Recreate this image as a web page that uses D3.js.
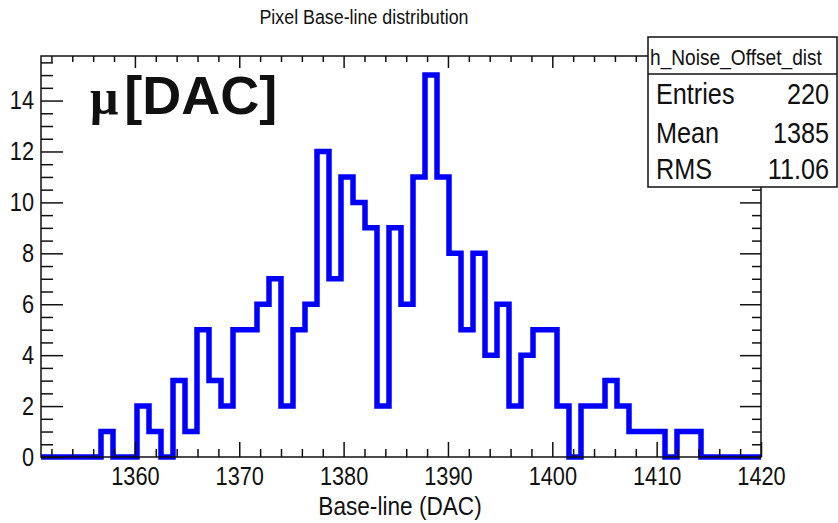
<!DOCTYPE html>
<html>
<head>
<meta charset="utf-8">
<script src="https://cdn.jsdelivr.net/npm/d3@7"></script>
<style>
  html, body { margin: 0; padding: 0; background: #fff; }
  svg { display: block; }
  text { font-family: "Liberation Sans", Arial, sans-serif; fill: #111; }
</style>
</head>
<body>
<svg id="chart" width="838" height="523"></svg>
<script>
// Histogram h_Noise_Offset_dist: 60 bins between 1351 and 1420 DAC
const xLow = 1351;
const xHigh = 1420;
const binCounts = [
  0, 0, 0, 0, 0, 1, 0, 0, 2, 1,
  0, 3, 1, 5, 3, 2, 5, 5, 6, 7,
  2, 5, 6, 12, 7, 11, 10, 9, 2, 9,
  6, 11, 15, 11, 8, 5, 8, 4, 6, 2,
  4, 5, 5, 2, 0, 2, 2, 3, 2, 1,
  1, 1, 0, 1, 1, 0, 0, 0, 0, 0
];
const yMax = 15.75;

const xMajorTicks = [1360, 1370, 1380, 1390, 1400, 1410, 1420];
const yMajorTicks = [0, 2, 4, 6, 8, 10, 12, 14];

const titleText = "Pixel Base-line distribution";
const xAxisTitle = "Base-line (DAC)";
const histName = "h_Noise_Offset_dist";
const statLabels = ["Entries", "Mean", "RMS"];
const statValues = ["220", "1385", "11.06"];
const unitSymbol = "\u03bc";
const unitText = "[DAC]";

const svg = d3.select("#chart");
const frame = { left: 41, right: 761, top: 56, bottom: 457 };
const squeeze = 0.87; // narrow Helvetica-like lettering

const x = d3.scaleLinear().domain([xLow, xHigh]).range([frame.left, frame.right]);
const y = d3.scaleLinear().domain([0, yMax]).range([frame.bottom, frame.top]);

// Histogram outline as a step path
const binWidth = (xHigh - xLow) / binCounts.length;
const pts = [[xLow, 0]];
binCounts.forEach((c, i) => {
  pts.push([xLow + i * binWidth, c]);
  pts.push([xLow + (i + 1) * binWidth, c]);
});
pts.push([xHigh, 0]);

svg.append("path")
  .datum(pts)
  .attr("d", d3.line().x(d => x(d[0])).y(d => y(d[1])))
  .attr("fill", "none")
  .attr("stroke", "#0000ff")
  .attr("stroke-width", 5.5)
  .attr("stroke-linejoin", "miter");

// Axes
const xMinorTicks = d3.range(1352, xHigh + 0.001, 2).filter(v => v % 10 !== 0);
const yMinorTicks = d3.range(0.5, yMax, 0.5).filter(v => v % 2 !== 0);

function styleAxis(g) {
  g.select(".domain").remove();
  g.selectAll("line").attr("stroke", "#111").attr("stroke-width", 1.5);
}

// bottom
svg.append("g").attr("transform", `translate(0,${frame.bottom})`)
  .call(d3.axisBottom(x).tickValues(xMinorTicks).tickSize(-8).tickFormat(""))
  .call(styleAxis);
const gx = svg.append("g").attr("transform", `translate(0,${frame.bottom})`)
  .call(d3.axisBottom(x).tickValues(xMajorTicks).tickSize(-15).tickPadding(10).tickFormat(d3.format("d")))
  .call(styleAxis);
gx.selectAll("text")
  .attr("font-size", 25)
  .attr("fill", "#111")
  .attr("transform", `scale(${squeeze},1)`);

// top
svg.append("g").attr("transform", `translate(0,${frame.top})`)
  .call(d3.axisTop(x).tickValues(xMinorTicks).tickSize(-6).tickFormat(""))
  .call(styleAxis);
svg.append("g").attr("transform", `translate(0,${frame.top})`)
  .call(d3.axisTop(x).tickValues(xMajorTicks).tickSize(-12).tickFormat(""))
  .call(styleAxis);

// left
svg.append("g").attr("transform", `translate(${frame.left},0)`)
  .call(d3.axisLeft(y).tickValues(yMinorTicks).tickSize(-12).tickFormat(""))
  .call(styleAxis);
const gy = svg.append("g").attr("transform", `translate(${frame.left},0)`)
  .call(d3.axisLeft(y).tickValues(yMajorTicks).tickSize(-22).tickPadding(8).tickFormat(d3.format("d")))
  .call(styleAxis);
gy.selectAll("text")
  .attr("font-size", 25)
  .attr("fill", "#111")
  .attr("transform", `scale(${squeeze},1)`);

// right
svg.append("g").attr("transform", `translate(${frame.right},0)`)
  .call(d3.axisRight(y).tickValues(yMinorTicks).tickSize(-9).tickFormat(""))
  .call(styleAxis);
svg.append("g").attr("transform", `translate(${frame.right},0)`)
  .call(d3.axisRight(y).tickValues(yMajorTicks).tickSize(-21).tickFormat(""))
  .call(styleAxis);

// frame
svg.append("rect")
  .attr("x", frame.left).attr("y", frame.top)
  .attr("width", frame.right - frame.left).attr("height", frame.bottom - frame.top)
  .attr("fill", "none").attr("stroke", "#111").attr("stroke-width", 1.5);

// squeezed text helper
function label(parent, str, px, py, size, anchor) {
  return parent.append("text")
    .attr("transform", `translate(${px},${py}) scale(${squeeze},1)`)
    .attr("text-anchor", anchor || "start")
    .attr("font-size", size)
    .text(str);
}

// title and axis title
label(svg, titleText, 364, 24, 20.5, "middle");
label(svg, xAxisTitle, 400, 515, 26, "middle");

// statistics box
const box = svg.append("g");
box.append("rect")
  .attr("x", 648).attr("y", 37).attr("width", 189).attr("height", 150)
  .attr("fill", "#fff").attr("stroke", "#111").attr("stroke-width", 1.5);
box.append("line")
  .attr("x1", 648).attr("x2", 837).attr("y1", 74).attr("y2", 74)
  .attr("stroke", "#111").attr("stroke-width", 1.5);
label(box, histName, 650, 65, 22, "start");
const statY = [104, 143, 179];
statLabels.forEach((s, i) => {
  label(box, s, 656, statY[i], 29, "start");
  label(box, statValues[i], 829, statY[i], 29, "end");
});

// unit annotation: serif mu followed by bold [DAC]
const unit = svg.append("text")
  .attr("x", 90).attr("y", 114)
  .attr("font-size", 54)
  .attr("fill", "#000");
unit.append("tspan")
  .attr("font-family", "'Liberation Serif', 'DejaVu Serif', serif")
  .attr("font-size", 50)
  .attr("font-weight", "bold")
  .text(unitSymbol);
unit.append("tspan")
  .attr("dx", 6)
  .attr("font-weight", "bold")
  .text(unitText);
</script>
</body>
</html>
